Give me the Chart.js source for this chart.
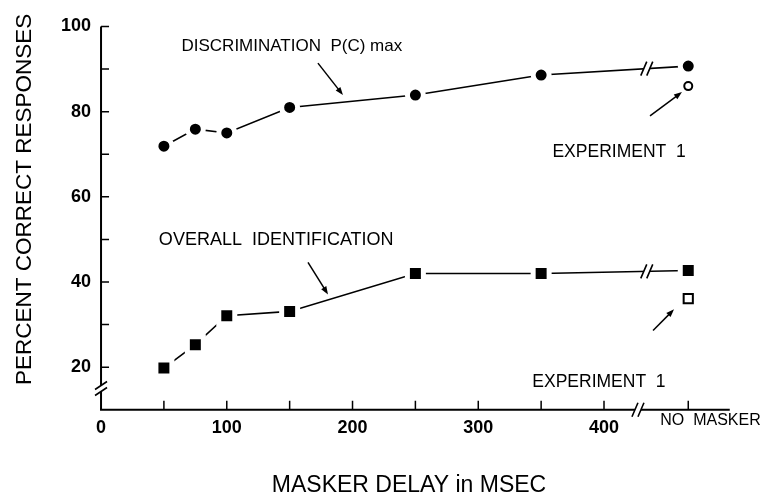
<!DOCTYPE html>
<html>
<head>
<meta charset="utf-8">
<title>Masker delay</title>
<script src="https://cdn.jsdelivr.net/npm/chart.js@4.4.1/dist/chart.umd.min.js"></script>
<style>
  html, body { margin: 0; padding: 0; background: #fff; }
  #wrap { width: 775px; height: 499px; }
</style>
</head>
<body>
<div id="wrap"><canvas id="maskChart"></canvas></div>
<script>
// Masker delay in msec; the last entry stands for the "no masker" condition
const delays = [50, 75, 100, 150, 250, 350, 467];
const discrimination = [71.9, 75.9, 75.0, 81.0, 83.9, 88.6, 90.7];
const identification = [19.8, 25.3, 32.1, 33.1, 42.0, 42.0, 42.7];

// Experiment 1 values (no masker only)
const noMaskerX = 467;
const exp1Discrimination = 86.0;
const exp1Identification = 36.1;

// Axis ticks
const xTickValues = [0, 50, 100, 150, 200, 250, 300, 350, 400, 467];
const xTickLabels = { 0: '0', 100: '100', 200: '200', 300: '300', 400: '400', 467: '          NO  MASKER' };
const yTickValues = [20, 30, 40, 50, 60, 70, 80, 90, 100];
const yTickLabels = [20, 40, 60, 80, 100];

// where the axes and the lines are broken
const xBreakAt = 427;
const yBreakAt = 15;
const lineBreakAt = 434;

Chart.defaults.font.family = "'Liberation Sans', Arial, sans-serif";
Chart.defaults.color = '#000';

function toPoints(xs, ys) {
    return xs.map((x, i) => ({ x: x, y: ys[i] }));
}

// value of a series at some x, read along its last segment
function valueAlong(ys, xv) {
    const n = delays.length;
    const x0 = delays[n - 2], x1 = delays[n - 1];
    return ys[n - 2] + (ys[n - 1] - ys[n - 2]) * (xv - x0) / (x1 - x0);
}

function drawBreak(ctx, cx, cy, vertical) {
    ctx.save();
    ctx.fillStyle = '#fff';
    ctx.fillRect(cx - 3, cy - 3, 6, 6);
    ctx.strokeStyle = '#000';
    ctx.lineWidth = 1.6;
    ctx.beginPath();
    [-3, 3].forEach(d => {
        if (vertical) {
            ctx.moveTo(cx - 6, cy + d + 4);
            ctx.lineTo(cx + 6, cy + d - 4);
        } else {
            ctx.moveTo(cx + d - 3, cy + 7);
            ctx.lineTo(cx + d + 3, cy - 7);
        }
    });
    ctx.stroke();
    ctx.restore();
}

function drawArrow(ctx, x1, y1, x2, y2) {
    const ang = Math.atan2(y2 - y1, x2 - x1);
    ctx.beginPath();
    ctx.moveTo(x1, y1);
    ctx.lineTo(x2 - 5 * Math.cos(ang), y2 - 5 * Math.sin(ang));
    ctx.stroke();
    ctx.beginPath();
    ctx.moveTo(x2, y2);
    ctx.lineTo(x2 - 8 * Math.cos(ang) + 3 * Math.sin(ang), y2 - 8 * Math.sin(ang) - 3 * Math.cos(ang));
    ctx.lineTo(x2 - 8 * Math.cos(ang) - 3 * Math.sin(ang), y2 - 8 * Math.sin(ang) + 3 * Math.cos(ang));
    ctx.closePath();
    ctx.fill();
}

// text labels and arrows, placed in data units
const notes = [
    { text: 'DISCRIMINATION  P(C) max', x: 64, y: 95.4, size: 17 },
    { text: 'EXPERIMENT  1', x: 359, y: 70.6, size: 17.5 },
    { text: 'OVERALL  IDENTIFICATION', x: 46, y: 49.9, size: 18 },
    { text: 'EXPERIMENT  1', x: 343, y: 16.6, size: 17.5 }
];
const arrows = [
    [172.5, 91.4, 192.4, 83.9],
    [436.6, 79.0, 462.0, 84.6],
    [164.6, 44.6, 180.5, 37.1],
    [439.0, 28.6, 455.7, 33.6]
];

const decor = {
    id: 'decor',
    beforeDatasetsDraw(chart) {
        const { ctx, chartArea: a, scales: { x, y } } = chart;
        ctx.save();
        ctx.strokeStyle = '#000';
        ctx.lineWidth = 2;
        ctx.beginPath();
        ctx.moveTo(a.left, a.top);
        ctx.lineTo(a.left, a.bottom);
        ctx.lineTo(a.right, a.bottom);
        ctx.stroke();
        // tick marks point into the plot
        ctx.lineWidth = 1.5;
        ctx.beginPath();
        yTickValues.forEach(v => {
            const py = y.getPixelForValue(v);
            ctx.moveTo(a.left, py);
            ctx.lineTo(a.left + 8, py);
        });
        xTickValues.forEach(v => {
            if (v === 0) return;
            const px = x.getPixelForValue(v);
            ctx.moveTo(px, a.bottom);
            ctx.lineTo(px, a.bottom - 9);
        });
        ctx.stroke();
        ctx.restore();
    },
    afterDatasetsDraw(chart) {
        const { ctx, chartArea: a, scales: { x, y } } = chart;
        drawBreak(ctx, a.left, y.getPixelForValue(yBreakAt), true);
        drawBreak(ctx, x.getPixelForValue(xBreakAt), a.bottom, false);
        [discrimination, identification].forEach(ys => {
            drawBreak(ctx, x.getPixelForValue(lineBreakAt), y.getPixelForValue(valueAlong(ys, lineBreakAt)), false);
        });

        ctx.save();
        ctx.fillStyle = '#000';
        ctx.strokeStyle = '#000';
        ctx.lineWidth = 1.5;
        ctx.textBaseline = 'middle';
        ctx.textAlign = 'left';
        notes.forEach(n => {
            ctx.font = n.size + "px 'Liberation Sans', Arial, sans-serif";
            ctx.fillText(n.text, x.getPixelForValue(n.x), y.getPixelForValue(n.y));
        });
        arrows.forEach(ar => {
            drawArrow(ctx, x.getPixelForValue(ar[0]), y.getPixelForValue(ar[1]),
                x.getPixelForValue(ar[2]), y.getPixelForValue(ar[3]));
        });
        ctx.restore();
    }
};

new Chart(document.getElementById('maskChart'), {
    type: 'scatter',
    data: {
        datasets: [
            {
                label: 'Discrimination P(C) max',
                data: toPoints(delays, discrimination),
                showLine: true,
                borderColor: '#000',
                borderWidth: 1.6,
                pointStyle: 'circle',
                pointRadius: 8,
                pointBackgroundColor: '#000',
                pointBorderColor: '#fff',
                pointBorderWidth: 5,
                clip: false
            },
            {
                label: 'Overall identification',
                data: toPoints(delays, identification),
                showLine: true,
                borderColor: '#000',
                borderWidth: 1.6,
                pointStyle: 'rect',
                pointRadius: 11.3,
                pointBackgroundColor: '#000',
                pointBorderColor: '#fff',
                pointBorderWidth: 5,
                clip: false
            },
            {
                label: 'Experiment 1 discrimination',
                data: [{ x: noMaskerX, y: exp1Discrimination }],
                pointStyle: 'circle',
                pointRadius: 4,
                pointBackgroundColor: '#fff',
                pointBorderColor: '#000',
                pointBorderWidth: 2,
                clip: false
            },
            {
                label: 'Experiment 1 identification',
                data: [{ x: noMaskerX, y: exp1Identification }],
                pointStyle: 'rect',
                pointRadius: 6.5,
                pointBackgroundColor: '#fff',
                pointBorderColor: '#000',
                pointBorderWidth: 2,
                clip: false
            }
        ]
    },
    options: {
        responsive: true,
        maintainAspectRatio: false,
        animation: false,
        events: [],
        layout: { padding: { top: 26.5, right: 45.25, bottom: 0, left: 0 } },
        plugins: {
            legend: { display: false },
            tooltip: { enabled: false }
        },
        scales: {
            x: {
                type: 'linear',
                min: 0,
                max: 500,
                afterBuildTicks: scale => { scale.ticks = xTickValues.map(v => ({ value: v })); },
                grid: { display: false, drawTicks: false, tickLength: 0 },
                border: { display: false },
                ticks: {
                    autoSkip: false,
                    maxRotation: 0,
                    padding: 7,
                    color: '#000',
                    callback: v => xTickLabels[v] || '',
                    font: ctx => (ctx.tick && ctx.tick.value === noMaskerX)
                        ? { size: 16, weight: 'normal', lineHeight: 0.5 }
                        : { size: 18, weight: 'bold' }
                },
                title: {
                    display: true,
                    text: 'MASKER DELAY in MSEC  ',
                    color: '#000',
                    font: { size: 23 },
                    padding: { top: 26, bottom: 0 }
                }
            },
            y: {
                min: 10,
                max: 100,
                afterBuildTicks: scale => { scale.ticks = yTickValues.map(v => ({ value: v })); },
                grid: { display: false, drawTicks: false, tickLength: 0 },
                border: { display: false },
                ticks: {
                    padding: 10,
                    color: '#000',
                    font: { size: 18, weight: 'bold' },
                    callback: v => yTickLabels.includes(v) ? String(v) : ''
                },
                title: {
                    display: true,
                    text: '      PERCENT CORRECT RESPONSES',
                    color: '#000',
                    font: { size: 22.5 },
                    padding: { top: 11.5, bottom: 12.5 }
                }
            }
        }
    },
    plugins: [decor]
});
</script>
</body>
</html>
